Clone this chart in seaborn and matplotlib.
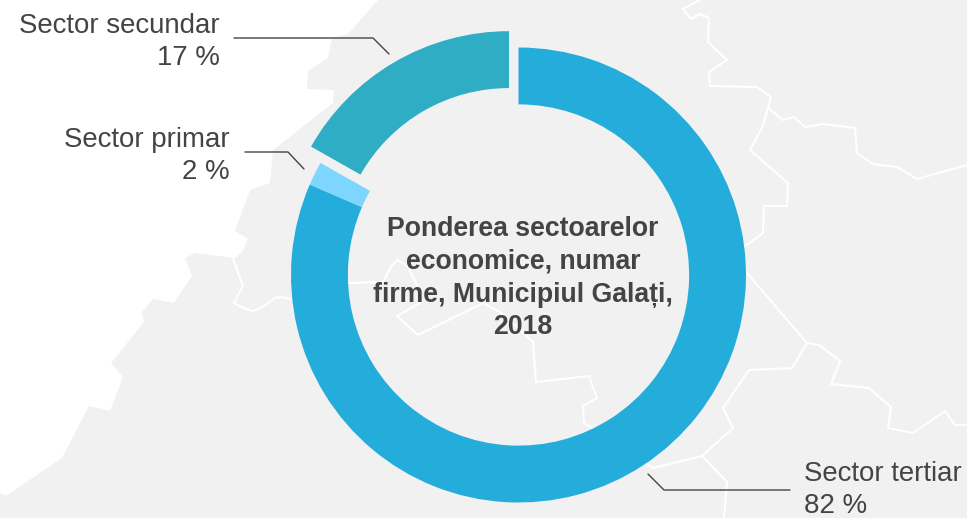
import matplotlib
matplotlib.use("Agg")
import matplotlib.pyplot as plt
import seaborn as sns

sns.set_theme(style="white")
plt.rcParams['font.family'] = ['Liberation Sans', 'DejaVu Sans']

# Sector shares (percent), drawn counter-clockwise from 12 o'clock
sectors = ["Sector secundar", "Sector primar", "Sector tertiar"]
shares = [16.8, 1.7, 81.5]
share_labels = ["17 %", "2 %", "82 %"]
colors = ["#28ABC4", "#7AD6FF", "#1DABDA"]
title = "Ponderea sectoarelor\neconomice, numar\nfirme, Municipiul Galați,\n2018"

W, H = 967, 518
GREY = "#F1F1F1"
DARK = "#444444"

# Background map traced in pixels
land = [(378, 0), (348, 34), (332, 38), (328, 58), (308, 71), (307, 89), (334, 90), (333, 103),
        (273, 150), (270, 183), (250, 190), (235, 231), (248, 239), (243, 251), (235, 258),
        (195, 253), (185, 258), (192, 276), (174, 303), (153, 299), (142, 312), (144, 322),
        (111, 363), (123, 377), (110, 411), (89, 406), (62, 458), (6, 496), (0, 493),
        (0, 518), (967, 518), (967, 0)]
borders = [
    [(233, 259), (243, 286), (234, 303), (243, 308), (253, 311), (263, 307), (275, 298), (282, 297),
     (293, 300), (300, 295), (302, 267), (310, 262), (322, 263), (325, 285), (350, 283), (383, 282),
     (392, 265), (398, 260), (408, 267), (418, 287), (420, 303), (397, 316), (418, 335), (483, 303),
     (500, 312), (515, 325), (533, 342), (536, 382), (589, 376), (597, 398), (583, 406), (584, 423),
     (653, 468), (702, 456), (727, 482), (724, 518)],
    [(702, 456), (733, 428), (723, 408), (749, 370), (792, 368), (807, 343), (747, 273), (733, 255),
     (763, 233), (764, 206), (787, 206), (788, 183), (750, 150), (762, 128), (768, 108), (771, 97),
     (757, 87), (710, 86), (709, 72), (727, 60), (708, 42), (709, 18), (700, 14), (691, 19),
     (683, 9), (700, 0)],
    [(768, 108), (783, 120), (794, 117), (805, 127), (823, 124), (855, 128), (857, 153), (873, 164),
     (897, 167), (917, 179), (967, 165)],
    [(807, 343), (819, 345), (840, 361), (831, 384), (869, 388), (891, 407), (888, 428), (913, 433),
     (945, 411), (955, 425), (967, 425)],
]
leaders = [
    [(234, 38), (373, 38), (389, 54)],
    [(245, 152), (288, 152), (304, 169)],
    [(648, 474), (664, 490), (790, 490)],
]

fig = plt.figure(figsize=(W / 100, H / 100), dpi=100)

bg = fig.add_axes([0, 0, 1, 1])
bg.set_xlim(0, W)
bg.set_ylim(H, 0)
bg.axis("off")
bg.fill(*zip(*land), color=GREY, lw=0)
for b in borders:
    bg.plot(*zip(*b), color="white", lw=1.5, solid_joinstyle="miter")
for l in leaders:
    bg.plot(*zip(*l), color=DARK, lw=1)

# Donut: 1 data unit = 227.5 px, centre at (518.5, 275)
R, cx, cy = 227.5, 518.5, 275
half = 1.25 * R
ax = fig.add_axes([(cx - half) / W, (H - cy - half) / H, 2 * half / W, 2 * half / H])
ax.patch.set_alpha(0)
ax.pie(shares, colors=sns.color_palette(colors), startangle=90, explode=[0.083, 0, 0],
       wedgeprops=dict(width=0.25, lw=0, alpha=0.97))
ax.set_xlim(-1.25, 1.25)
ax.set_ylim(-1.25, 1.25)

fs = 19.9
bg.text(220, 42, sectors[0] + "\n" + share_labels[0], ha="right", va="center", fontsize=fs,
        color=DARK, linespacing=1.32)
bg.text(230, 156, sectors[1] + "\n" + share_labels[1], ha="right", va="center", fontsize=fs,
        color=DARK, linespacing=1.32)
bg.text(804, 490, sectors[2] + "\n" + share_labels[2], ha="left", va="center", fontsize=fs,
        color=DARK, linespacing=1.27)
bg.text(523, 278, title, ha="center", va="center", fontsize=19.2, fontweight="bold",
        color=DARK, linespacing=1.35, zorder=5)
bg.set_zorder(0)
ax.set_zorder(1)

fig.savefig("out.png", dpi=100)
